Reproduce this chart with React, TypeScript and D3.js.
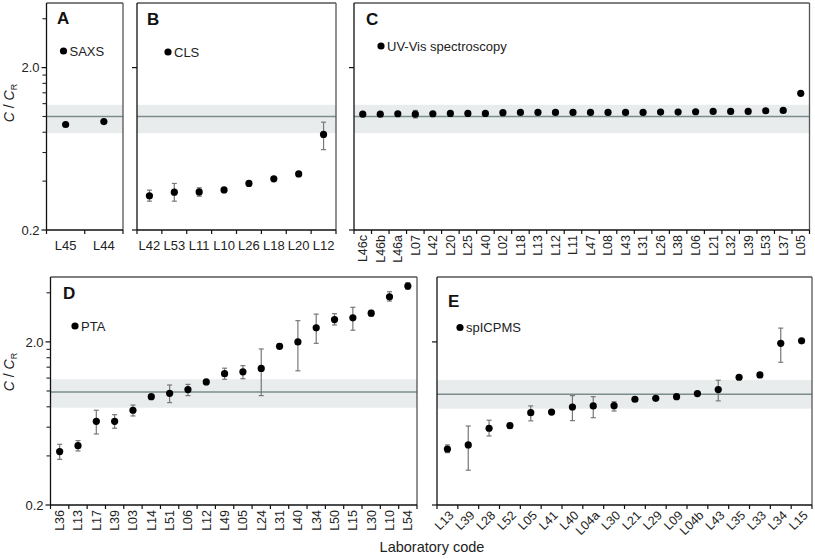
import React from "react";
import * as d3 from "d3";

type N = number | null;

const catsA = ["L45", "L44"];
const valsA = [0.893, 0.93];
const loA: N[] = [null, null];
const hiA: N[] = [null, null];

const catsB = ["L42", "L53", "L11", "L10", "L26", "L18", "L20", "L12"];
const valsB = [0.325, 0.342, 0.343, 0.353, 0.387, 0.413, 0.443, 0.776];
const loB: N[] = [0.301, 0.301, 0.323, null, 0.376, null, null, 0.625];
const hiB: N[] = [0.352, 0.387, 0.364, null, 0.398, null, null, 0.923];

const catsC = ["L46c", "L46b", "L46a", "L07", "L42", "L20", "L25", "L40", "L02", "L18", "L13", "L12", "L11", "L47", "L08", "L43", "L31", "L26", "L38", "L06", "L21", "L32", "L39", "L53", "L37", "L05"];
const valsC = [1.034, 1.034, 1.04, 1.034, 1.04, 1.044, 1.044, 1.044, 1.055, 1.06, 1.06, 1.06, 1.06, 1.06, 1.06, 1.06, 1.06, 1.065, 1.065, 1.07, 1.075, 1.075, 1.075, 1.085, 1.09, 1.39];
const loC: N[] = catsC.map((c) => (c === "L07" ? 0.98 : null));
const hiC: N[] = catsC.map((c) => (c === "L07" ? 1.09 : null));

const catsD = ["L36", "L13", "L17", "L39", "L03", "L14", "L51", "L06", "L12", "L49", "L05", "L24", "L31", "L40", "L34", "L50", "L15", "L30", "L10", "L54"];
const valsD = [0.425, 0.462, 0.652, 0.652, 0.762, 0.923, 0.968, 1.02, 1.136, 1.278, 1.31, 1.375, 1.88, 2.0, 2.44, 2.74, 2.81, 3.0, 3.78, 4.4];
const loD: N[] = [0.381, 0.429, 0.545, 0.591, 0.703, null, 0.849, 0.937, null, 1.18, 1.19, 0.937, 1.81, 1.33, 1.96, 2.54, 2.36, 2.88, 3.56, 4.2];
const hiD: N[] = [0.471, 0.496, 0.762, 0.716, 0.82, null, 1.088, 1.098, null, 1.38, 1.43, 1.81, 1.95, 2.7, 2.96, 2.98, 3.26, 3.12, 4.06, 4.62];

const catsE = ["L13", "L39", "L28", "L52", "L05", "L41", "L40", "L04a", "L30", "L21", "L29", "L09", "L04b", "L43", "L35", "L33", "L34", "L15"];
const valsE = [0.441, 0.467, 0.591, 0.614, 0.736, 0.743, 0.798, 0.81, 0.813, 0.89, 0.902, 0.923, 0.964, 1.02, 1.214, 1.254, 1.96, 2.03];
const loE: N[] = [0.419, 0.327, 0.53, 0.592, 0.656, null, 0.658, 0.686, 0.754, null, null, null, null, 0.87, null, null, 1.5, null];
const hiE: N[] = [0.467, 0.61, 0.662, 0.634, 0.81, null, 0.937, 0.923, 0.86, null, null, null, null, 1.164, null, null, 2.43, null];

const yDomain = [0.2, 5];
const majorTicks = [0.2, 2.0];
const minorTicks = [0.4, 0.6, 0.8, 1.0, 1.2, 1.4, 1.6, 1.8, 4.0];
const refValues = [1.0, 1.0, 1.0, 0.985, 0.955];
const bandLow = [0.79, 0.79, 0.79, 0.79, 0.78];
const bandHigh = [1.18, 1.18, 1.18, 1.18, 1.17];

const FONT = "'Liberation Sans', Arial, Helvetica, sans-serif";

type Panel = {
  letter: string;
  legend: string;
  cats: string[];
  vals: number[];
  lo: N[];
  hi: N[];
  x0: number;
  x1: number;
  y0: number;
  y1: number;
  angle: number;
  minor: boolean;
  yLabels: boolean;
  letterPos: [number, number];
  legendPos: [number, number];
};

function renderPanel(p: Panel, idx: number) {
  const x = d3.scaleBand<string>().domain(p.cats).range([p.x0, p.x1]).padding(0);
  const y = d3.scaleLog().domain(yDomain).range([p.y1, p.y0]);
  const step = x.step();
  const bounds = d3.range(p.cats.length + 1).map((i) => p.x0 + i * step);
  const ref = refValues[idx];
  const tickVals = p.minor ? minorTicks : [];
  return (
    <g key={p.letter}>
      <rect x={p.x0} y={y(bandHigh[idx])} width={p.x1 - p.x0} height={y(bandLow[idx]) - y(bandHigh[idx])} fill="#e8ecec" />
      <line x1={p.x0} x2={p.x1} y1={y(ref)} y2={y(ref)} stroke="#7a8c8c" strokeWidth={1.6} />
      <line x1={p.x0} x2={p.x1} y1={p.y0} y2={p.y0} stroke="#555" strokeWidth={1.3} />
      <line x1={p.x1} x2={p.x1} y1={p.y0} y2={p.y1} stroke="#555" strokeWidth={1.3} />
      <line x1={p.x0} x2={p.x0} y1={p.y0} y2={p.y1} stroke="#111" strokeWidth={1.3} />
      <line x1={p.x0} x2={p.x1} y1={p.y1} y2={p.y1} stroke="#111" strokeWidth={1.3} />
      {majorTicks.map((t) => (
        <line key={"M" + t} x1={p.x0 - 5} x2={p.x0} y1={y(t)} y2={y(t)} stroke="#111" strokeWidth={1.2} />
      ))}
      {tickVals.map((t) => (
        <line key={"m" + t} x1={p.x0 - 4} x2={p.x0} y1={y(t)} y2={y(t)} stroke="#222" strokeWidth={1.1} />
      ))}
      {p.yLabels &&
        majorTicks.map((t) => (
          <text key={"L" + t} x={p.x0 - 7} y={y(t)} dy="0.36em" textAnchor="end" fontSize={13} fontFamily={FONT} fill="#222">
            {d3.format(".1f")(t)}
          </text>
        ))}
      {bounds.map((b, i) => (
        <line key={"xt" + i} x1={b} x2={b} y1={p.y1} y2={p.y1 + 4} stroke="#111" strokeWidth={1.2} />
      ))}
      {p.cats.map((c) => {
        const cx = (x(c) as number) + step / 2;
        if (p.angle === 0)
          return (
            <text key={"xl" + c} x={cx} y={p.y1 + 20} textAnchor="middle" fontSize={13} fontFamily={FONT} fill="#222">
              {c}
            </text>
          );
        const ox = p.angle < -60 ? cx : cx + 4;
        const oy = p.angle < -60 ? p.y1 + 5 : p.y1 + 8;
        return (
          <g key={"xl" + c} transform={"translate(" + ox + "," + oy + ")"}>
            <text transform={"rotate(" + p.angle + ")"} dy="0.35em" textAnchor="end" fontSize={12.5} fontFamily={FONT} fill="#222">
              {c}
            </text>
          </g>
        );
      })}
      {p.cats.map((c, i) => {
        const lo = p.lo[i];
        const hi = p.hi[i];
        if (lo == null || hi == null) return null;
        const cx = (x(c) as number) + step / 2;
        return (
          <g key={"e" + c} stroke="#777" strokeWidth={1.2}>
            <line x1={cx} x2={cx} y1={y(lo)} y2={y(hi)} />
            <line x1={cx - 2.5} x2={cx + 2.5} y1={y(lo)} y2={y(lo)} />
            <line x1={cx - 2.5} x2={cx + 2.5} y1={y(hi)} y2={y(hi)} />
          </g>
        );
      })}
      {p.cats.map((c, i) => (
        <circle key={"d" + c} cx={(x(c) as number) + step / 2} cy={y(p.vals[i])} r={3.6} fill="#000" />
      ))}
      <text x={p.letterPos[0]} y={p.letterPos[1]} fontSize={17} fontWeight="bold" fontFamily={FONT} fill="#111">
        {p.letter}
      </text>
      <circle cx={p.legendPos[0]} cy={p.legendPos[1]} r={3.6} fill="#000" />
      <text x={p.legendPos[0] + 6} y={p.legendPos[1] + 4.8} fontSize={13} fontFamily={FONT} fill="#222">
        {p.legend}
      </text>
    </g>
  );
}

export default function App() {
  const panels: Panel[] = [
    { letter: "A", legend: "SAXS", cats: catsA, vals: valsA, lo: loA, hi: hiA, x0: 46.5, x1: 123, y0: 3, y1: 230, angle: 0, minor: true, yLabels: true, letterPos: [57, 24], legendPos: [63.5, 51] },
    { letter: "B", legend: "CLS", cats: catsB, vals: valsB, lo: loB, hi: hiB, x0: 137, x1: 336, y0: 3, y1: 230, angle: 0, minor: false, yLabels: false, letterPos: [147, 25], legendPos: [168, 52] },
    { letter: "C", legend: "UV-Vis spectroscopy", cats: catsC, vals: valsC, lo: loC, hi: hiC, x0: 354, x1: 809.5, y0: 3, y1: 230, angle: -90, minor: false, yLabels: false, letterPos: [366, 25], legendPos: [381, 46] },
    { letter: "D", legend: "PTA", cats: catsD, vals: valsD, lo: loD, hi: hiD, x0: 50.5, x1: 417, y0: 277, y1: 505, angle: -90, minor: true, yLabels: true, letterPos: [63, 299], legendPos: [75, 326] },
    { letter: "E", legend: "spICPMS", cats: catsE, vals: valsE, lo: loE, hi: hiE, x0: 437, x1: 812, y0: 277, y1: 505, angle: -45, minor: false, yLabels: false, letterPos: [448, 307], legendPos: [460, 327.5] },
  ];
  return (
    <svg width={815} height={559} style={{ position: "absolute", left: 0, top: 0, background: "#fff" }}>
      <rect x={0} y={0} width={815} height={559} fill="#fff" />
      {panels.map((p, i) => renderPanel(p, i))}
      {[103, 372].map((cy) => (
        <text key={cy} transform={"translate(14," + cy + ") rotate(-90)"} textAnchor="middle" fontSize={14} fontFamily={FONT} fill="#222">
          <tspan fontStyle="italic">C</tspan>
          <tspan> / </tspan>
          <tspan fontStyle="italic">C</tspan>
          <tspan fontSize={9} dy={3}>R</tspan>
        </text>
      ))}
      <text x={432} y={552} textAnchor="middle" fontSize={14.5} fontFamily={FONT} fill="#222">
        Laboratory code
      </text>
    </svg>
  );
}
